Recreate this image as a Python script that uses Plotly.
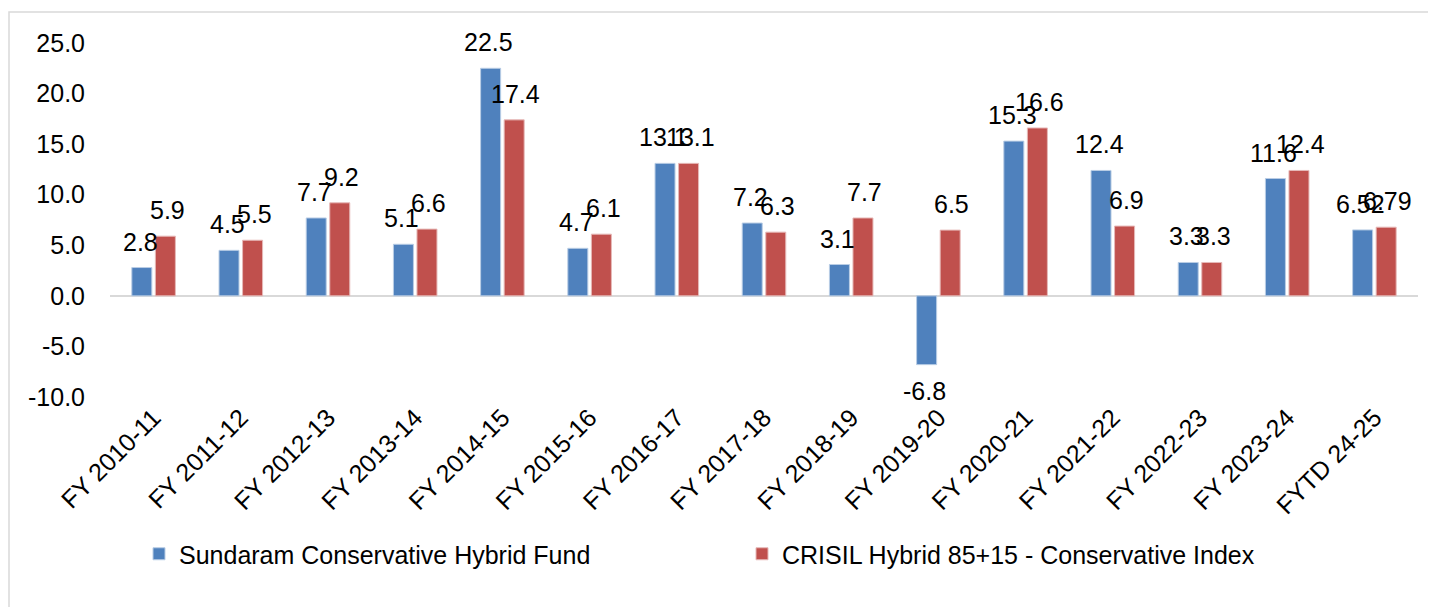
import plotly.graph_objects as go

categories = ["FY 2010-11", "FY 2011-12", "FY 2012-13", "FY 2013-14", "FY 2014-15",
              "FY 2015-16", "FY 2016-17", "FY 2017-18", "FY 2018-19", "FY 2019-20",
              "FY 2020-21", "FY 2021-22", "FY 2022-23", "FY 2023-24", "FYTD 24-25"]
fund = [2.8, 4.5, 7.7, 5.1, 22.5, 4.7, 13.1, 7.2, 3.1, -6.8, 15.3, 12.4, 3.3, 11.6, 6.52]
index = [5.9, 5.5, 9.2, 6.6, 17.4, 6.1, 13.1, 6.3, 7.7, 6.5, 16.6, 6.9, 3.3, 12.4, 6.79]
fund_labels = ["2.8", "4.5", "7.7", "5.1", "22.5", "4.7", "13.1", "7.2", "3.1", "-6.8",
               "15.3", "12.4", "3.3", "11.6", "6.52"]
index_labels = ["5.9", "5.5", "9.2", "6.6", "17.4", "6.1", "13.1", "6.3", "7.7", "6.5",
                "16.6", "6.9", "3.3", "12.4", "6.79"]
series_names = ["Sundaram Conservative Hybrid Fund", "CRISIL Hybrid 85+15 - Conservative Index"]
yticks = [-10, -5, 0, 5, 10, 15, 20, 25]

FONT = "Liberation Sans, Arial, sans-serif"
FS = 25
W, H = 1428, 599
L, R, T, B = 102, 18, 35, 210
PW, PH = W - L - R, H - T - B

fig = go.Figure()
fig.add_trace(go.Bar(x=categories, y=fund, name=series_names[0],
                     marker=dict(color="#4F81BD", line=dict(color="#B9CDE5", width=1))))
fig.add_trace(go.Bar(x=categories, y=index, name=series_names[1],
                     marker=dict(color="#C0504D", line=dict(color="#E6B9B8", width=1))))

annotations = []
for values, labels, dx in ((fund, fund_labels, -13.5), (index, index_labels, 13.5)):
    for c, v, t in zip(categories, values, labels):
        pos = v >= 0
        annotations.append(dict(x=c, y=v, text=t, showarrow=False, xref="x", yref="y",
                                xshift=dx, yshift=10 if pos else -10,
                                yanchor="bottom" if pos else "top",
                                font=dict(size=FS, color="black", family=FONT)))

fig.update_layout(
    width=W, height=H,
    barmode="group", bargap=0.46, bargroupgap=0.15,
    plot_bgcolor="white", paper_bgcolor="white",
    font=dict(family=FONT, size=FS, color="black"),
    margin=dict(l=L, r=R, t=T, b=B),
    showlegend=True,
    legend=dict(orientation="h", x=0.5 - 22 / PW, xanchor="center", y=(389 - 523) / PH,
                yanchor="top", font=dict(size=FS, family=FONT), itemwidth=30,
                entrywidth=558, traceorder="normal"),
    xaxis=dict(tickangle=-45, showgrid=False, showline=False, ticks="",
               tickfont=dict(size=FS, family=FONT)),
    yaxis=dict(range=[-10, 25], tickvals=yticks, ticktext=[f"{v:.1f}" for v in yticks],
               showgrid=False, zeroline=True, zerolinecolor="#D9D9D9", zerolinewidth=1.5,
               showline=False, ticks="", ticklabelstandoff=24,
               tickfont=dict(size=FS, family=FONT)),
    annotations=annotations,
    shapes=[dict(type="rect", xref="paper", yref="paper",
                 x0=(1 - L) / PW, x1=(W + 20 - L) / PW,
                 y0=(389 - 640) / PH, y1=(389 - 4) / PH,
                 line=dict(color="#D9D9D9", width=1.5), layer="below")],
)

fig.write_html("out.html")
